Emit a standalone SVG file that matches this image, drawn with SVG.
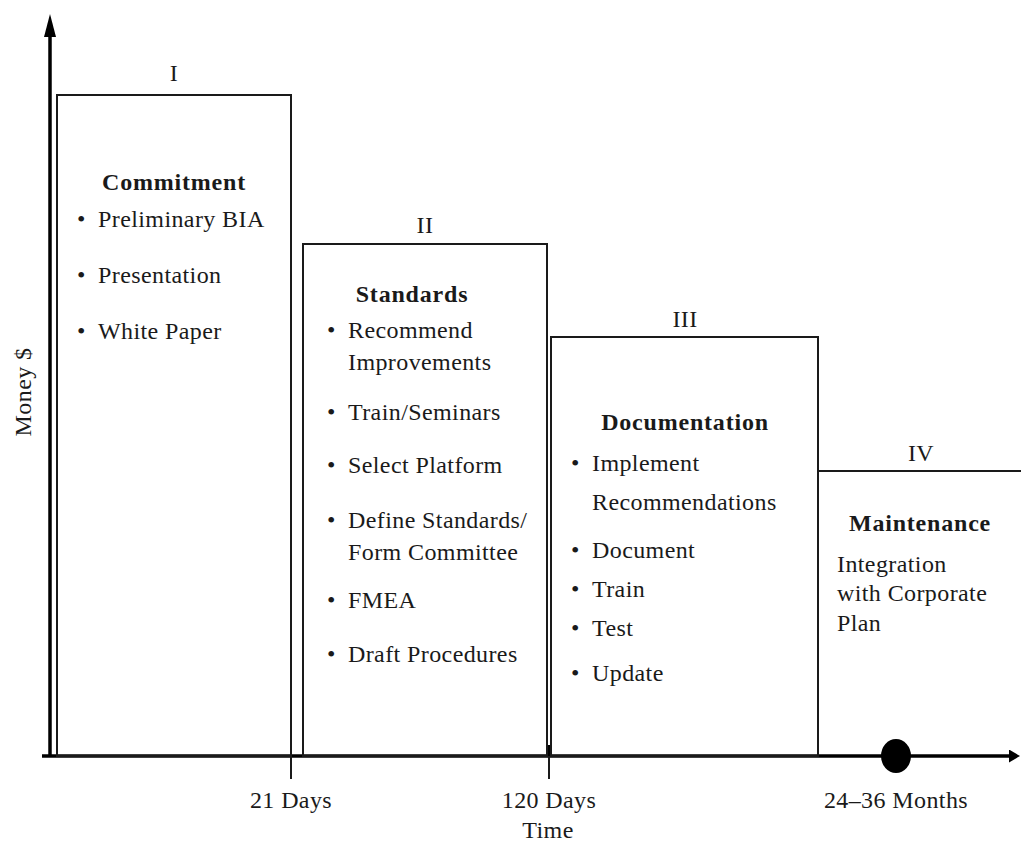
<svg xmlns="http://www.w3.org/2000/svg" width="1021" height="844" viewBox="0 0 1021 844">
<style>
text{font-family:"Liberation Serif","Times New Roman",serif;font-size:24px;letter-spacing:0.4px;fill:#1a1a1a}
.h{font-weight:bold;text-anchor:middle;letter-spacing:0.8px}
.c{text-anchor:middle}
.box{fill:none;stroke:#1a1a1a;stroke-width:2}
.ax{stroke:#000;stroke-width:3.5;fill:none}
.tk{stroke:#1a1a1a;stroke-width:2}
</style>
<defs>
<marker id="av" markerWidth="23" markerHeight="12" refX="2" refY="6" orient="auto" markerUnits="userSpaceOnUse" viewBox="0 0 23 12">
<path d="M0,0 L23,6 L0,12 Z" fill="#000"/>
</marker>
<marker id="ah" markerWidth="11" markerHeight="13" refX="2" refY="6.5" orient="auto" markerUnits="userSpaceOnUse" viewBox="0 0 11 13">
<path d="M0,0 L11,6.5 L0,13 Z" fill="#000"/>
</marker>
</defs>
<g id="axes">
<line class="ax" x1="50" y1="757" x2="50" y2="35" marker-end="url(#av)"/>
<line class="ax" x1="42" y1="756" x2="1011" y2="756" marker-end="url(#ah)"/>
<line class="tk" x1="291" y1="756" x2="291" y2="779"/>
<line class="tk" x1="549" y1="756" x2="549" y2="779"/>
<line x1="549" y1="745" x2="549" y2="756" stroke="#000" stroke-width="3"/>
<ellipse cx="896" cy="756" rx="15" ry="17" fill="#000"/>
<text class="c" x="291" y="808">21 Days</text>
<text class="c" x="549" y="808">120 Days</text>
<text class="c" x="548" y="838">Time</text>
<text class="c" x="896" y="808">24–36 Months</text>
<text class="c" transform="translate(31,392) rotate(-90)">Money $</text>
</g>
<g id="phase1">
<rect class="box" x="57" y="95" width="234" height="661"/>
<text class="c" x="174" y="81">I</text>
<text class="h" x="174" y="190">Commitment</text>
<text x="77" y="227">•</text><text x="98" y="227">Preliminary BIA</text>
<text x="77" y="283">•</text><text x="98" y="283">Presentation</text>
<text x="77" y="339">•</text><text x="98" y="339">White Paper</text>
</g>
<g id="phase2">
<rect class="box" x="303" y="244" width="244" height="512"/>
<text class="c" x="425" y="233">II</text>
<text class="h" x="412" y="302">Standards</text>
<text x="327" y="338">•</text><text x="348" y="338">Recommend</text>
<text x="348" y="370">Improvements</text>
<text x="327" y="420">•</text><text x="348" y="420">Train/Seminars</text>
<text x="327" y="473">•</text><text x="348" y="473">Select Platform</text>
<text x="327" y="528">•</text><text x="348" y="528">Define Standards/</text>
<text x="348" y="560">Form Committee</text>
<text x="327" y="608">•</text><text x="348" y="608">FMEA</text>
<text x="327" y="662">•</text><text x="348" y="662">Draft Procedures</text>
</g>
<g id="phase3">
<rect class="box" x="551" y="337" width="267" height="419"/>
<text class="c" x="685" y="327">III</text>
<text class="h" x="685" y="430">Documentation</text>
<text x="571" y="471">•</text><text x="592" y="471">Implement</text>
<text x="592" y="510">Recommendations</text>
<text x="571" y="558">•</text><text x="592" y="558">Document</text>
<text x="571" y="597">•</text><text x="592" y="597">Train</text>
<text x="571" y="636">•</text><text x="592" y="636">Test</text>
<text x="571" y="681">•</text><text x="592" y="681">Update</text>
</g>
<g id="phase4">
<path class="box" d="M818,756 L818,471 L1021,471"/>
<text class="c" x="921" y="461">IV</text>
<text class="h" x="920" y="531">Maintenance</text>
<text x="837" y="572">Integration</text>
<text x="837" y="601">with Corporate</text>
<text x="837" y="631">Plan</text>
</g>
</svg>
